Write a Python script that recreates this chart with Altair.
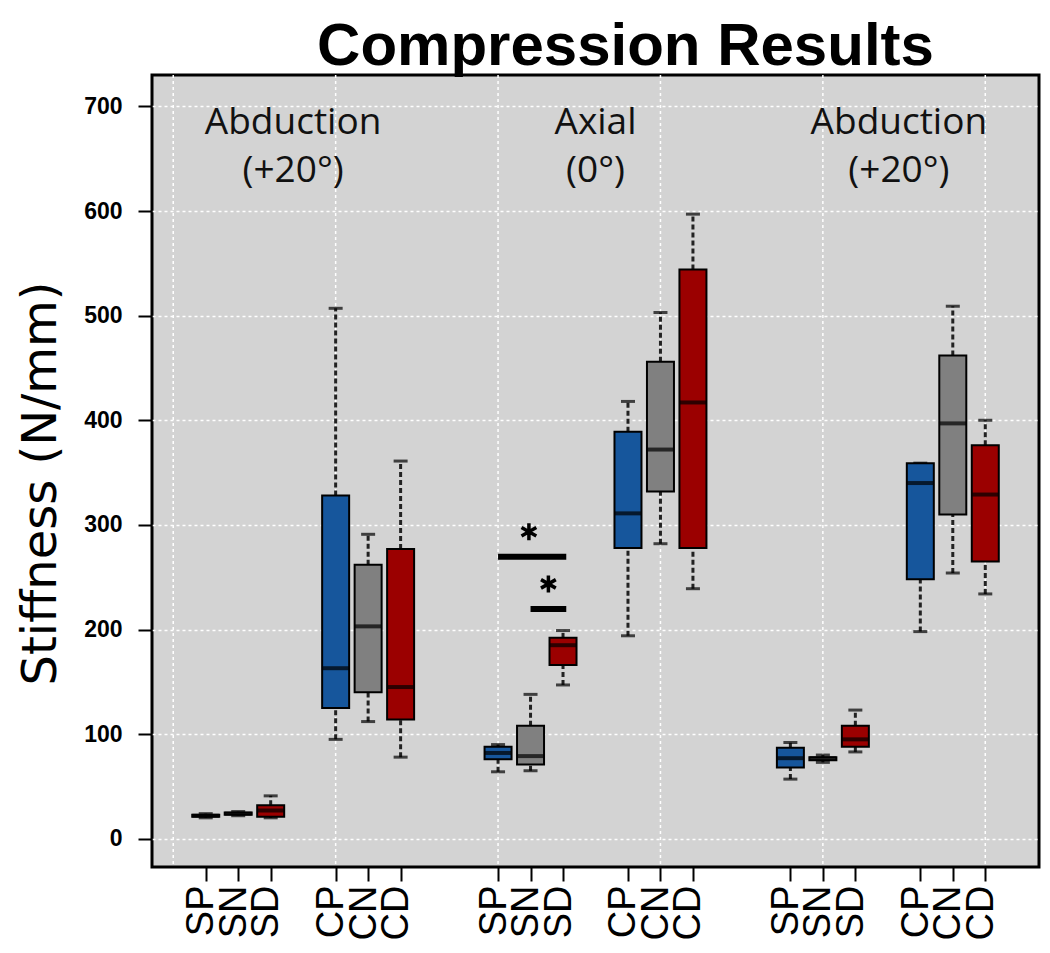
import altair as alt
import pandas as pd

# ---- data ----
LABELS = ["SP", "SN", "SD", "CP", "CN", "CD"] * 3
POSITIONS = [1, 2, 3, 5, 6, 7, 10, 11, 12, 14, 15, 16, 19, 20, 21, 23, 24, 25]
KIND = ["P", "N", "D"] * 6
WHISK_LO = [20, 22, 20, 95, 112, 78, 64, 65, 147, 194, 282, 239, 57, 73, 83, 198, 254, 234]
Q1 = [21, 23, 21, 125, 140, 114, 76, 71, 166, 278, 332, 278, 68, 75, 88, 248, 310, 265]
MEDIAN = [22, 24, 27, 163, 203, 145, 82, 79, 185, 311, 372, 417, 77, 77, 95, 340, 397, 329]
Q3 = [23, 25, 32, 328, 262, 277, 88, 108, 192, 389, 456, 544, 87, 78, 108, 359, 462, 376]
WHISK_HI = [24, 26, 41, 507, 291, 361, 90, 138, 199, 418, 503, 597, 92, 80, 123, 359, 509, 400]

GROUP_POS = [3.69, 13.0, 22.34]
GROUP_LINE1 = ["Abduction", "Axial", "Abduction"]
GROUP_LINE2 = ["(+20°)", "(0°)", "(+20°)"]
LINE1_Y = 674
LINE2_Y = 628

SIG_X = [10.0, 11.0]
SIG_X2 = [12.1, 12.1]
SIG_Y = [269.6, 219.7]
STAR_X = [10.95, 11.55]
STAR_Y = [293.5, 243.6]

GRID_X = [0, 5, 10, 15, 20, 25]
Y_TICKS = [0, 100, 200, 300, 400, 500, 600, 700]

KIND_DOMAIN = ["P", "N", "D"]
KIND_COLORS = ["#16569c", "#808080", "#9b0000"]

df = pd.DataFrame({
    "pos": POSITIONS, "label": LABELS, "kind": KIND,
    "lo": WHISK_LO, "q1": Q1, "med": MEDIAN, "q3": Q3, "hi": WHISK_HI,
})
grid_df = pd.DataFrame({"pos": GRID_X})
text_df = pd.DataFrame({
    "pos": GROUP_POS * 2,
    "y": [LINE1_Y] * 3 + [LINE2_Y] * 3,
    "text": GROUP_LINE1 + GROUP_LINE2,
})
sig_df = pd.DataFrame({"pos": SIG_X, "pos2": SIG_X2, "y": SIG_Y})
star_df = pd.DataFrame({"pos": STAR_X, "y": STAR_Y})

# label lookup array for the x axis
lab_arr = [""] * 27
for p, l in zip(POSITIONS, LABELS):
    lab_arr[p] = l
label_expr = "[" + ",".join("'" + s + "'" for s in lab_arr) + "][datum.value]"

xscale = alt.Scale(domain=[-0.5, 26.5], nice=False, zero=False)
yscale = alt.Scale(domain=[-27, 730], nice=False, zero=False)

xaxis = alt.Axis(
    values=POSITIONS, labelExpr=label_expr, labelAngle=270,
    labelAlign="right", labelBaseline="middle",
    labelFont="Liberation Sans", labelFontSize=38, labelColor="black",
    labelPadding=4, labelOffset=-4, labelOverlap=False, labelBound=False,
    labelFlush=False, tickSize=14, tickWidth=2, tickColor="black",
    grid=False, domain=False,
)
yaxis = alt.Axis(
    values=Y_TICKS, labelFont="Liberation Sans", labelFontSize=23,
    labelFontWeight="bold", labelColor="black", labelPadding=16,
    tickSize=14, tickWidth=2, tickColor="black", domain=False,
    grid=True, gridColor="white", gridDash=[3, 3], gridWidth=1.5,
    titleFont="DejaVu Sans", titleFontSize=48, titleFontWeight="normal",
    titleColor="black", titleAngle=270, titleX=-97, titleY=408,
    titleBaseline="alphabetic", titleAlign="center",
)
YT = "Stiffness (N/mm)"


def X(field="pos"):
    return alt.X(f"{field}:Q", scale=xscale, axis=xaxis, title=None)


def Y(field):
    return alt.Y(f"{field}:Q", scale=yscale, axis=yaxis, title=YT)


color = alt.Color("kind:N", scale=alt.Scale(domain=KIND_DOMAIN, range=KIND_COLORS), legend=None)

grid = alt.Chart(grid_df).mark_rule(color="white", strokeDash=[3, 3], strokeWidth=1.5).encode(x=X())

base = alt.Chart(df)
wl = base.mark_rule(color="#222222", strokeDash=[5, 3], strokeWidth=3).encode(x=X(), y=Y("lo"), y2="q1")
wh = base.mark_rule(color="#222222", strokeDash=[5, 3], strokeWidth=3).encode(x=X(), y=Y("q3"), y2="hi")
cl = base.mark_tick(orient="horizontal", size=14, thickness=3, color="black").encode(x=X(), y=Y("lo"))
ch = base.mark_tick(orient="horizontal", size=14, thickness=3, color="black").encode(x=X(), y=Y("hi"))
box = base.mark_bar(size=27, stroke="black", strokeWidth=2, opacity=1).encode(
    x=X(), y=Y("q1"), y2="q3", color=color)
med = base.mark_tick(orient="horizontal", size=27, thickness=4, color="black").encode(x=X(), y=Y("med"))

sig = alt.Chart(sig_df).mark_rule(color="black", strokeWidth=6).encode(x=X(), x2="pos2", y=Y("y"))
star_path = "M0,-1L0,1M-0.87,-0.5L0.87,0.5M-0.87,0.5L0.87,-0.5"
stars = alt.Chart(star_df).mark_point(shape=star_path, size=289, filled=False, color="black",
                                      strokeWidth=3.5, opacity=1).encode(x=X(), y=Y("y"))
texts = alt.Chart(text_df).mark_text(font="Open Sans", fontSize=37, baseline="alphabetic",
                                     align="center", color="#111111").encode(
    x=X(), y=Y("y"), text="text:N")

chart = alt.layer(grid, wl, wh, cl, ch, box, med, sig, stars, texts).properties(
    width=887, height=792,
    autosize="none",
    padding={"left": 144, "top": 67, "right": 3, "bottom": 78},
    title=alt.Title("Compression Results", font="Liberation Sans", fontSize=60,
                    fontWeight="bold", color="black", anchor="middle", dx=30,
                    offset=10, baseline="alphabetic", dy=61),
    background="white",
).configure_view(fill="#d3d3d3", stroke="black", strokeWidth=3)

chart.save("out.html", embed_options={"renderer": "svg", "actions": False})
